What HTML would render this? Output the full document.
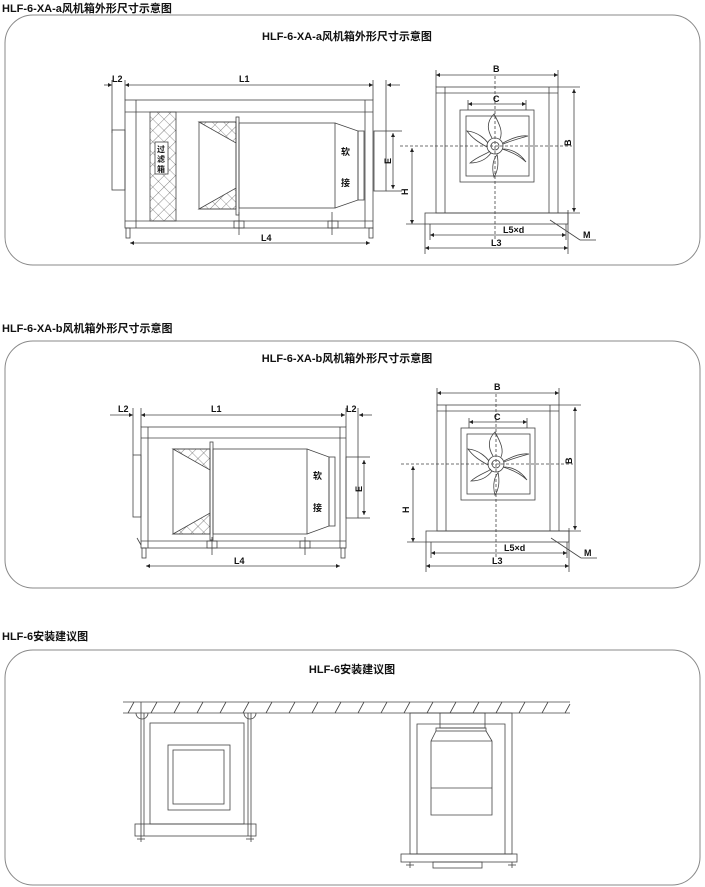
<!DOCTYPE html>
<html><head><meta charset="utf-8"><style>
html,body{margin:0;padding:0;background:#fff;}
svg{display:block;}
text{font-family:"Liberation Sans","Noto Sans CJK SC",sans-serif;fill:#111;}
.h{font-size:11px;font-weight:bold;}
.t{font-size:11px;font-weight:bold;}
.s{font-size:9px;font-weight:bold;}
</style></head><body>
<svg width="705" height="887" viewBox="0 0 705 887" xmlns="http://www.w3.org/2000/svg">
<defs>
<pattern id="hx" width="8" height="8" patternUnits="userSpaceOnUse" patternTransform="rotate(45)">
<path d="M0 0H8M0 0V8" stroke="#333" stroke-width="0.6" fill="none"/>
</pattern>
<marker id="ar" viewBox="0 0 6 6" refX="6" refY="3" markerWidth="5" markerHeight="5" orient="auto-start-reverse"><path d="M0 0L6 3L0 6z" fill="#222"/></marker>
<g id="front" fill="none" stroke="#444" stroke-width="0.8">
<rect x="436" y="87" width="122" height="126"/>
<line x1="445" y1="87" x2="445" y2="213"/><line x1="549" y1="87" x2="549" y2="213"/>
<line x1="436" y1="93" x2="558" y2="93"/>
<rect x="460" y="110" width="74" height="72"/>
<rect x="466" y="116" width="63" height="60"/>
<rect x="425" y="213" width="143" height="11"/>
<line x1="495" y1="76" x2="495" y2="240" stroke-dasharray="3,2"/>
<line x1="400" y1="146" x2="572" y2="146" stroke-dasharray="3,2"/>
<circle cx="495" cy="146" r="8"/><circle cx="495" cy="146" r="4"/>
<path d="M492 138 C486 128 488 120 494 114 C500 125 503 132 500 139"/>
<path d="M487 147 C478 142 472 138 467 131 C478 132 485 139 488 143"/>
<path d="M491 153 C486 160 478 163 470 163 C478 156 487 154 490 151"/>
<path d="M497 154 C499 164 498 171 494 177 C491 166 494 158 497 155"/>
<path d="M502 149 C512 152 520 156 526 162 C519 152 510 149 503 149"/>
<path d="M503 143 C512 138 520 135 528 136 C517 139 508 142 503 144"/>
<line x1="436" y1="75" x2="558" y2="75" marker-start="url(#ar)" marker-end="url(#ar)"/>
<line x1="436" y1="70" x2="436" y2="87"/><line x1="558" y1="70" x2="558" y2="87"/>
<line x1="468" y1="104" x2="526" y2="104" marker-start="url(#ar)" marker-end="url(#ar)"/>
<line x1="468" y1="100" x2="468" y2="110"/><line x1="526" y1="100" x2="526" y2="110"/>
<line x1="574" y1="89" x2="574" y2="212" marker-start="url(#ar)" marker-end="url(#ar)"/>
<line x1="558" y1="87" x2="580" y2="87"/><line x1="558" y1="213" x2="580" y2="213"/>
<line x1="412" y1="148" x2="412" y2="224" marker-start="url(#ar)" marker-end="url(#ar)"/>
<line x1="406" y1="224" x2="425" y2="224"/>
<line x1="430" y1="235" x2="566" y2="235" marker-start="url(#ar)" marker-end="url(#ar)"/>
<line x1="425" y1="248" x2="568" y2="248" marker-start="url(#ar)" marker-end="url(#ar)"/>
<line x1="425" y1="224" x2="425" y2="254"/><line x1="568" y1="210" x2="568" y2="254"/>
<line x1="430" y1="224" x2="430" y2="240"/><line x1="566" y1="224" x2="566" y2="240"/>
<line x1="550" y1="220" x2="580" y2="240"/><line x1="580" y1="240" x2="596" y2="240"/>
</g>
</defs>

<text x="2" y="12" class="h">HLF-6-XA-a风机箱外形尺寸示意图</text>
<rect x="5" y="15" width="695" height="250" rx="28" fill="none" stroke="#888" stroke-width="1"/>
<text x="347" y="40" class="t" text-anchor="middle">HLF-6-XA-a风机箱外形尺寸示意图</text>

<text x="2" y="332" class="h">HLF-6-XA-b风机箱外形尺寸示意图</text>
<rect x="5" y="341" width="695" height="247" rx="28" fill="none" stroke="#888" stroke-width="1"/>
<text x="347" y="362" class="t" text-anchor="middle">HLF-6-XA-b风机箱外形尺寸示意图</text>

<text x="2" y="640" class="h">HLF-6安装建议图</text>
<rect x="5" y="650" width="695" height="235" rx="28" fill="none" stroke="#888" stroke-width="1"/>
<text x="352" y="673" class="t" text-anchor="middle">HLF-6安装建议图</text>

<!-- Side view a -->
<g fill="none" stroke="#444" stroke-width="0.8">
<rect x="125" y="100" width="248" height="128"/>
<line x1="136" y1="100" x2="136" y2="228"/><line x1="365" y1="100" x2="365" y2="228"/>
<line x1="125" y1="112" x2="373" y2="112"/><line x1="125" y1="221" x2="373" y2="221"/>
<rect x="112" y="130" width="13" height="60"/>
<rect x="150" y="112" width="26" height="109" fill="url(#hx)"/>
<rect x="155" y="142" width="13" height="32" fill="#fff"/>
<path d="M199 122 L236 122 L236 209 L199 209 Z"/>
<path d="M199 122 L236 122 L236 143 Z" fill="url(#hx)"/>
<path d="M199 209 L236 188 L236 209 Z" fill="url(#hx)"/>
<rect x="236" y="117" width="3" height="98"/>
<rect x="239" y="123" width="96" height="85"/>
<path d="M335 123 L358 131 L358 200 L335 208"/>
<rect x="358" y="131" width="6" height="69"/>
<rect x="374" y="131" width="12" height="60"/>
<rect x="234" y="221" width="10" height="7"/><rect x="328" y="221" width="10" height="7"/>
<line x1="239" y1="212" x2="239" y2="235"/><line x1="332" y1="212" x2="332" y2="235"/>
<rect x="126" y="228" width="4" height="10"/><rect x="369" y="228" width="4" height="10"/>
<line x1="104" y1="85" x2="112" y2="85" marker-end="url(#ar)"/>
<line x1="125" y1="85" x2="373" y2="85" marker-start="url(#ar)" marker-end="url(#ar)"/>
<line x1="387" y1="85" x2="400" y2="85" marker-start="url(#ar)"/>
<line x1="112" y1="80" x2="112" y2="133"/><line x1="125" y1="80" x2="125" y2="100"/>
<line x1="373" y1="80" x2="373" y2="100"/><line x1="386" y1="80" x2="386" y2="131"/>
<line x1="130" y1="243" x2="370" y2="243" marker-start="url(#ar)" marker-end="url(#ar)"/>
<line x1="393" y1="133" x2="393" y2="189" marker-start="url(#ar)" marker-end="url(#ar)"/>
<line x1="386" y1="131" x2="402" y2="131"/><line x1="386" y1="191" x2="402" y2="191"/>
</g>
<text x="112" y="82" class="s">L2</text>
<text x="239" y="82" class="s">L1</text>
<text x="261" y="241" class="s">L4</text>
<text x="341" y="155" class="s">软</text>
<text x="341" y="186" class="s">接</text>
<text x="157" y="152" style="font-size:8px;font-weight:bold">过</text>
<text x="157" y="162" style="font-size:8px;font-weight:bold">滤</text>
<text x="157" y="172" style="font-size:8px;font-weight:bold">箱</text>
<text x="0" y="0" class="s" transform="translate(391,164) rotate(-90)">E</text>

<use href="#front"/>
<text x="493" y="72" class="s">B</text>
<text x="493" y="102" class="s">C</text>
<text x="0" y="0" class="s" transform="translate(571,146) rotate(-90)">B</text>
<text x="0" y="0" class="s" transform="translate(408,195) rotate(-90)">H</text>
<text x="503" y="233" class="s">L5×d</text>
<text x="491" y="246" class="s">L3</text>
<text x="583" y="238" class="s">M</text>

<!-- Side view b -->
<g fill="none" stroke="#444" stroke-width="0.8">
<rect x="141" y="427" width="205" height="121"/>
<line x1="148" y1="427" x2="148" y2="548"/><line x1="340" y1="427" x2="340" y2="548"/>
<line x1="141" y1="438" x2="346" y2="438"/><line x1="141" y1="541" x2="346" y2="541"/>
<rect x="133" y="455" width="8" height="62"/>
<path d="M173 449 L210 449 L210 534 L173 534 Z"/>
<path d="M173 449 L210 449 L210 470 Z" fill="url(#hx)"/>
<path d="M173 534 L210 513 L210 534 Z" fill="url(#hx)"/>
<rect x="210" y="442" width="3" height="98"/>
<rect x="213" y="449" width="94" height="85"/>
<path d="M307 449 L329 457 L329 526 L307 534"/>
<rect x="329" y="457" width="6" height="69"/>
<rect x="346" y="457" width="12" height="61"/>
<rect x="207" y="541" width="10" height="7"/><rect x="300" y="541" width="10" height="7"/>
<line x1="212" y1="537" x2="212" y2="555"/><line x1="305" y1="537" x2="305" y2="555"/>
<rect x="142" y="548" width="4" height="10"/><rect x="341" y="548" width="4" height="10"/>
<line x1="137" y1="538" x2="141" y2="545"/>
<line x1="110" y1="415" x2="133" y2="415" marker-end="url(#ar)"/>
<line x1="141" y1="415" x2="345" y2="415" marker-start="url(#ar)" marker-end="url(#ar)"/>
<line x1="359" y1="415" x2="372" y2="415" marker-start="url(#ar)"/>
<line x1="133" y1="408" x2="133" y2="455"/><line x1="141" y1="408" x2="141" y2="427"/>
<line x1="346" y1="408" x2="346" y2="427"/><line x1="358" y1="408" x2="358" y2="457"/>
<line x1="146" y1="566" x2="340" y2="566" marker-start="url(#ar)" marker-end="url(#ar)"/>
<line x1="364" y1="460" x2="364" y2="515" marker-start="url(#ar)" marker-end="url(#ar)"/>
<line x1="358" y1="457" x2="370" y2="457"/><line x1="358" y1="518" x2="370" y2="518"/>
</g>
<text x="118" y="412" class="s">L2</text>
<text x="211" y="412" class="s">L1</text>
<text x="346" y="412" class="s">L2</text>
<text x="234" y="564" class="s">L4</text>
<text x="313" y="479" class="s">软</text>
<text x="313" y="511" class="s">接</text>
<text x="0" y="0" class="s" transform="translate(362,492) rotate(-90)">E</text>

<use href="#front" transform="translate(1,318)"/>
<text x="494" y="390" class="s">B</text>
<text x="494" y="420" class="s">C</text>
<text x="0" y="0" class="s" transform="translate(572,464) rotate(-90)">B</text>
<text x="0" y="0" class="s" transform="translate(409,513) rotate(-90)">H</text>
<text x="504" y="551" class="s">L5×d</text>
<text x="492" y="564" class="s">L3</text>
<text x="584" y="556" class="s">M</text>

<!-- Install -->
<g fill="none" stroke="#444" stroke-width="0.8">
<line x1="123" y1="702" x2="570" y2="702"/><line x1="123" y1="713" x2="570" y2="713"/>
<path d="M128 713l6-11M151 713l6-11M174 713l6-11M197 713l6-11M220 713l6-11M243 713l6-11M266 713l6-11M289 713l6-11M312 713l6-11M335 713l6-11M358 713l6-11M381 713l6-11M404 713l6-11M427 713l6-11M450 713l6-11M473 713l6-11M496 713l6-11M519 713l6-11M542 713l6-11M565 713l5-9"/>
<line x1="141" y1="702" x2="141" y2="842"/><line x1="144" y1="713" x2="144" y2="836"/>
<line x1="248" y1="713" x2="248" y2="836"/><line x1="251" y1="713" x2="251" y2="842"/>
<path d="M136 713 a6 6 0 0 0 12 0"/><path d="M244 713 a6 6 0 0 0 12 0"/>
<rect x="150" y="723" width="94" height="101"/>
<rect x="168" y="745" width="62" height="65"/>
<rect x="173" y="750" width="51" height="54"/>
<rect x="135" y="824" width="121" height="12"/>
<line x1="137" y1="839" x2="145" y2="839"/><line x1="246" y1="839" x2="254" y2="839"/>
<rect x="410" y="713" width="102" height="141"/>
<path d="M417 854 V724 H505 V854"/>
<rect x="440" y="713" width="45" height="15"/>
<rect x="436" y="728" width="50" height="3"/>
<path d="M436 731 L431 741 V815 H492 V741 L486 731"/>
<line x1="431" y1="741" x2="492" y2="741"/>
<line x1="431" y1="788" x2="492" y2="788"/>
<rect x="401" y="854" width="116" height="8"/>
<rect x="433" y="862" width="49" height="6"/>
<line x1="410" y1="862" x2="410" y2="868"/><line x1="512" y1="862" x2="512" y2="868"/>
<line x1="406" y1="865" x2="414" y2="865"/><line x1="508" y1="865" x2="516" y2="865"/>
</g>
</svg>
</body></html>
